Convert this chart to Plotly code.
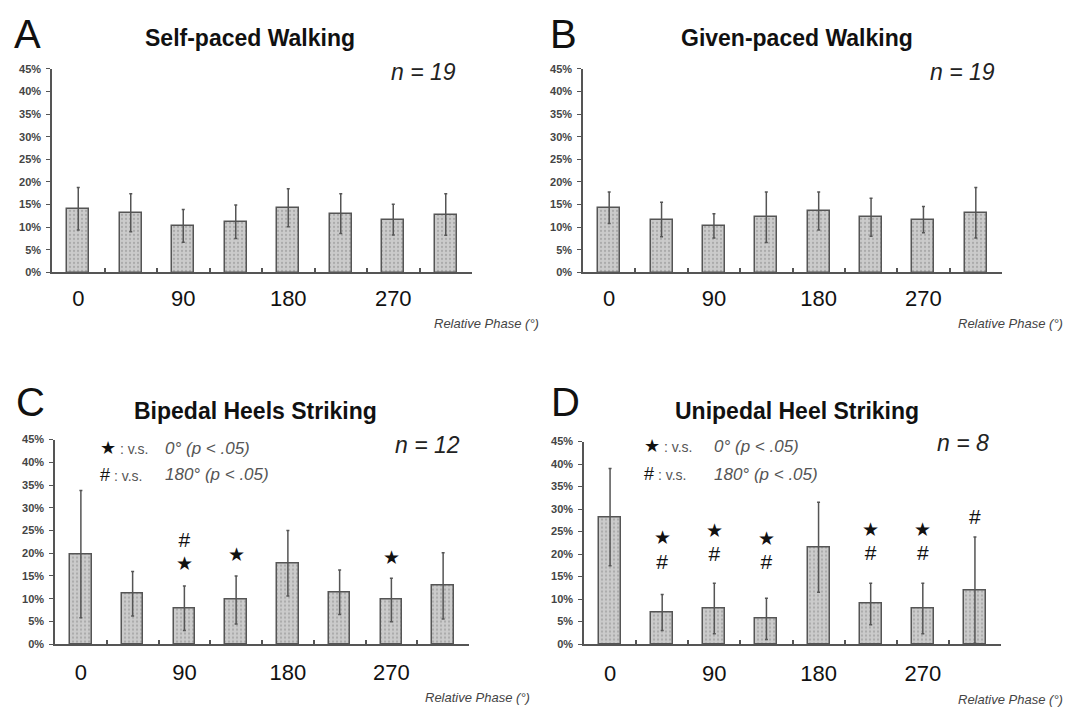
import plotly.graph_objects as go

W, H = 1077, 714

# ---------------- data ----------------
phase_positions = [0, 1, 2, 3, 4, 5, 6, 7]
phase_tick_pos = [0, 2, 4, 6]
phase_tick_labels = ["0", "90", "180", "270"]
bin_edges = [0.5, 1.5, 2.5, 3.5, 4.5, 5.5, 6.5, 7.5]
y_ticks = [0, 5, 10, 15, 20, 25, 30, 35, 40, 45]

self_mean = [14.1, 13.2, 10.3, 11.2, 14.3, 13.0, 11.7, 12.8]
self_sd = [4.7, 4.2, 3.6, 3.7, 4.2, 4.4, 3.4, 4.6]

given_mean = [14.3, 11.7, 10.3, 12.2, 13.6, 12.2, 11.7, 13.2]
given_sd = [3.5, 3.8, 2.7, 5.6, 4.2, 4.2, 2.9, 5.6]

bi_mean = [19.8, 11.1, 7.9, 9.7, 17.8, 11.4, 9.7, 12.8]
bi_sd = [14.0, 4.9, 4.9, 5.3, 7.2, 4.9, 4.8, 7.3]

uni_mean = [28.2, 7.0, 7.9, 5.6, 21.5, 8.9, 7.9, 12.0]
uni_sd = [10.8, 4.0, 5.6, 4.6, 10.0, 4.6, 5.6, 11.8]

# significance marks: (bar index, level in %)
bi_star = [(2, 17.3), (3, 19.3), (6, 18.6)]
bi_hash = [(2, 22.6)]
uni_star = [(1, 23.2), (2, 24.9), (3, 23.0), (5, 25.1), (6, 25.0)]
uni_hash = [(1, 17.8), (2, 19.7), (3, 17.8), (5, 19.8), (6, 19.8), (7, 27.9)]

panels = [
    dict(letter="A", title="Self-paced Walking", n="n = 19", mean=self_mean, sd=self_sd,
         star=[], hash=[], legend=False),
    dict(letter="B", title="Given-paced Walking", n="n = 19", mean=given_mean, sd=given_sd,
         star=[], hash=[], legend=False),
    dict(letter="C", title="Bipedal Heels Striking", n="n = 12", mean=bi_mean, sd=bi_sd,
         star=bi_star, hash=bi_hash, legend=True),
    dict(letter="D", title="Unipedal Heel Striking", n="n = 8", mean=uni_mean, sd=uni_sd,
         star=uni_star, hash=uni_hash, legend=True),
]

# ---------------- layout geometry (pixels) ----------------
geom = [
    dict(x0=52, x1=472, yb=271, yt=64, title=(250, 33), letter=(27, 28), n=(423, 67),
         rp=(541, 323), leg=(98, 163, 450, 477), std=5),
    dict(x0=583, x1=1002, yb=271, yt=64, title=(797, 33), letter=(563, 28), n=(962, 67),
         rp=(1065, 323), leg=None, std=5),
    dict(x0=55, x1=469, yb=649, yt=441, title=(255, 412), letter=(30, 403), n=(427, 447),
         rp=(532, 703), leg=(98, 163, 450, 477), std=8),
    dict(x0=584, x1=1001, yb=649, yt=443, title=(797, 412), letter=(565, 403), n=(963, 444),
         rp=(1065, 705), leg=(642, 712, 448, 476), std=9),
]

def px(x):
    return x / W

def py(y):
    return 1 - y / H

FONT = "Liberation Sans, Arial, Helvetica, sans-serif"
AX = "#555555"

fig = go.Figure()
annotations = []

for i, (p, g) in enumerate(zip(panels, geom)):
    k = "" if i == 0 else str(i + 1)
    kt = str(i + 5)
    xa, ya, xt = "x" + k, "y" + k, "x" + kt
    fig.add_trace(go.Bar(
        x=phase_positions, y=p["mean"], width=0.42,
        xaxis=xa, yaxis=ya,
        marker=dict(color="#c8c8c8",
                    line=dict(color="#555555", width=1.5),
                    pattern=dict(shape=".", fgcolor="#8a8a8a", bgcolor="#cbcbcb",
                                 size=4, solidity=0.25)),
        error_y=dict(type="data", array=p["sd"], visible=True, color="#555555",
                     thickness=1.5, width=1.5),
        showlegend=False, hoverinfo="skip",
    ))
    # invisible trace on the overlay axis that carries the bin-edge ticks
    fig.add_trace(go.Scatter(x=[bin_edges[0]], y=[0], xaxis=xt, yaxis=ya, mode="markers",
                             marker=dict(opacity=0), showlegend=False, hoverinfo="skip"))
    for marks, sym, sz in ((p["star"], "★", 19), (p["hash"], "#", 21)):
        if marks:
            fig.add_trace(go.Scatter(
                x=[m[0] for m in marks], y=[m[1] for m in marks], mode="text",
                text=[sym] * len(marks), xaxis=xa, yaxis=ya,
                textfont=dict(family=FONT, size=sz, color="#111111"),
                showlegend=False, hoverinfo="skip",
            ))
    fig.update_layout(**{
        "xaxis" + k: dict(
            domain=[px(g["x0"]), px(g["x1"])], range=[-0.5, 7.5],
            anchor=ya, tickmode="array", tickvals=phase_tick_pos,
            ticktext=phase_tick_labels, ticks="", showgrid=False,
            showline=True, linecolor=AX, linewidth=1.5, zeroline=False,
            tickfont=dict(family=FONT, size=22, color="#111111"),
            ticklabelstandoff=g["std"],
        ),
        "xaxis" + kt: dict(
            domain=[px(g["x0"]), px(g["x1"])], range=[-0.5, 7.5],
            anchor=ya, overlaying=xa, side="bottom", tickmode="array", tickvals=bin_edges,
            ticks="inside", ticklen=4, tickcolor=AX, tickwidth=1.5,
            showticklabels=False, showgrid=False, showline=False, zeroline=False,
        ),
        "yaxis" + k: dict(
            domain=[py(g["yb"]), py(g["yt"])], range=[0, 45], anchor=xa,
            tickmode="array", tickvals=y_ticks,
            ticktext=[f"{v}%" for v in y_ticks],
            ticks="outside", ticklen=4, tickcolor=AX, tickwidth=1.2,
            showline=True, linecolor=AX, linewidth=1.5, showgrid=False, zeroline=False,
            tickfont=dict(family=FONT, size=11, color="#444444", weight="bold"),
            ticklabelstandoff=3,
        ),
    })
    annotations.append(dict(text=f"<b>{p['title']}</b>", x=px(g["title"][0]), y=py(g["title"][1]),
                            xref="paper", yref="paper", xanchor="center", yanchor="middle",
                            showarrow=False, font=dict(family=FONT, size=23, color="#111111")))
    annotations.append(dict(text=p["letter"], x=px(g["letter"][0]), y=py(g["letter"][1]),
                            xref="paper", yref="paper", xanchor="center", yanchor="middle",
                            showarrow=False, font=dict(family=FONT, size=40, color="#111111",
                                                       weight=300)))
    annotations.append(dict(text=f"<i>{p['n']}</i>", x=px(g["n"][0]), y=py(g["n"][1]),
                            xref="paper", yref="paper", xanchor="center", yanchor="middle",
                            showarrow=False, font=dict(family=FONT, size=23, color="#222222")))
    annotations.append(dict(text="<i>Relative Phase (°)</i>", x=px(g["rp"][0]), y=py(g["rp"][1]),
                            xref="paper", yref="paper", xanchor="right", yanchor="middle",
                            showarrow=False, font=dict(family=FONT, size=13, color="#444444")))
    if p["legend"]:
        lx, ix, y1, y2 = g["leg"]
        for sym, lab, yy in (("★", "0° (p < .05)", y1), ("#", "180° (p < .05)", y2)):
            annotations.append(dict(
                text=f"<span style='font-size:18px;color:#111'>{sym}</span> : v.s.",
                x=px(lx), y=py(yy), xref="paper", yref="paper", xanchor="left",
                yanchor="middle", showarrow=False,
                font=dict(family=FONT, size=14, color="#555555")))
            annotations.append(dict(
                text=f"<i>{lab}</i>", x=px(ix), y=py(yy), xref="paper", yref="paper",
                xanchor="left", yanchor="middle", showarrow=False,
                font=dict(family=FONT, size=17, color="#555555")))

fig.update_layout(
    width=W, height=H, margin=dict(l=0, r=0, t=0, b=0),
    paper_bgcolor="white", plot_bgcolor="white",
    annotations=annotations, showlegend=False, bargap=0,
)

fig.write_html("out.html")
